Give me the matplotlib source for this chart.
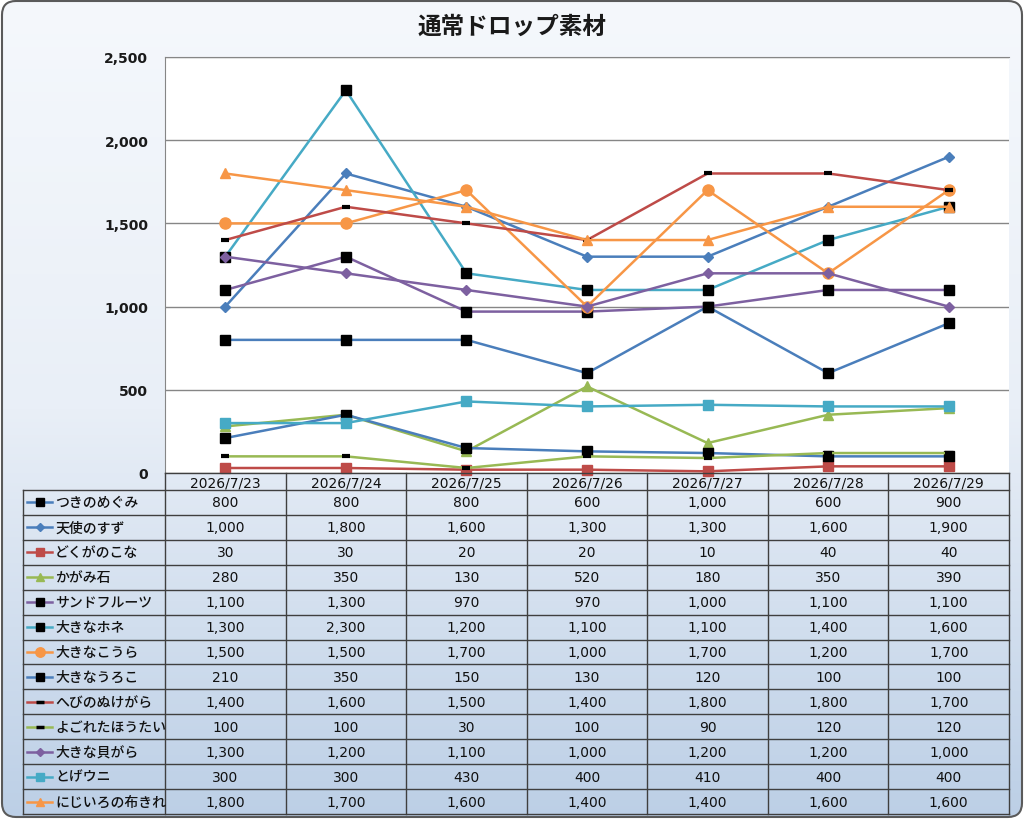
import numpy as np
import matplotlib
matplotlib.use('Agg')
import matplotlib.pyplot as plt
from matplotlib.patches import FancyBboxPatch
from matplotlib.colors import LinearSegmentedColormap
from matplotlib.ticker import FuncFormatter

plt.rcParams['font.family'] = ['DejaVu Sans', 'Noto Sans CJK JP']
JP = ['Noto Sans CJK JP', 'DejaVu Sans']

# Data
dates = ['2026/7/23', '2026/7/24', '2026/7/25', '2026/7/26',
         '2026/7/27', '2026/7/28', '2026/7/29']

names = ['つきのめぐみ', '天使のすず', 'どくがのこな', 'かがみ石', 'サンドフルーツ',
         '大きなホネ', '大きなこうら', '大きなうろこ', 'へびのぬけがら',
         'よごれたほうたい', '大きな貝がら', 'とげウニ', 'にじいろの布きれ']

tsuki = [800, 800, 800, 600, 1000, 600, 900]
tenshi = [1000, 1800, 1600, 1300, 1300, 1600, 1900]
dokuga = [30, 30, 20, 20, 10, 40, 40]
kagami = [280, 350, 130, 520, 180, 350, 390]
sand = [1100, 1300, 970, 970, 1000, 1100, 1100]
hone = [1300, 2300, 1200, 1100, 1100, 1400, 1600]
koura = [1500, 1500, 1700, 1000, 1700, 1200, 1700]
uroko = [210, 350, 150, 130, 120, 100, 100]
hebi = [1400, 1600, 1500, 1400, 1800, 1800, 1700]
yogoreta = [100, 100, 30, 100, 90, 120, 120]
kaigara = [1300, 1200, 1100, 1000, 1200, 1200, 1000]
togeuni = [300, 300, 430, 400, 410, 400, 400]
niji = [1800, 1700, 1600, 1400, 1400, 1600, 1600]

series = [tsuki, tenshi, dokuga, kagami, sand, hone, koura,
          uroko, hebi, yogoreta, kaigara, togeuni, niji]

# Styles: (line colour, marker, marker colour, marker size)
BLUE, RED, GREEN = '#4a7ebb', '#be4b48', '#98b954'
PURPLE, CYAN, ORANGE = '#7d60a0', '#46aac5', '#f79646'
styles = [
    (BLUE, 's', 'black', 7),
    (BLUE, 'D', BLUE, 5),
    (RED, 's', RED, 7),
    (GREEN, '^', GREEN, 7.5),
    (PURPLE, 's', 'black', 7),
    (CYAN, 's', 'black', 7),
    (ORANGE, 'o', ORANGE, 8),
    (BLUE, 's', 'black', 7),
    (RED, '_', 'black', 6),
    (GREEN, '_', 'black', 6),
    (PURPLE, 'D', PURPLE, 5),
    (CYAN, 's', CYAN, 7),
    (ORANGE, '^', ORANGE, 7.5),
]

W, H = 1024, 820
fig = plt.figure(figsize=(W / 100, H / 100), dpi=100)

# Background with rounded border and vertical gradient
bg = fig.add_axes([0, 0, 1, 1], zorder=0)
bg.set_xlim(0, W)
bg.set_ylim(H, 0)
bg.axis('off')
frame = FancyBboxPatch((2, 2), W - 4, H - 4, boxstyle='round,pad=0,rounding_size=14',
                       facecolor='none', edgecolor='#5a5a5a', lw=1.5, zorder=3)
bg.add_patch(frame)
cmap = LinearSegmentedColormap.from_list('bgc', ['#f5f8fc', '#e9eff7', '#bccfe6'])
grad = np.linspace(0, 1, 256).reshape(-1, 1)
img = bg.imshow(grad, extent=[0, W, H, 0], aspect='auto', cmap=cmap, zorder=1)
img.set_clip_path(frame)

bg.text(512, 27, '通常ドロップ素材', ha='center', va='center', family=JP,
        fontsize=17, fontweight='bold', color='#1a1a1a')

# Plot area in pixel geometry
px_l, px_r, px_t, px_b = 165, 1009, 58, 474
ax = fig.add_axes([px_l / W, (H - px_b) / H, (px_r - px_l) / W, (px_b - px_t) / H],
                  zorder=2)
ax.set_facecolor('white')
x = np.arange(len(dates))
for vals, (lc, mk, mc, ms) in zip(series, styles):
    if mk == '_':
        ax.plot(x, vals, color=lc, lw=1.8, marker=mk, markersize=ms,
                markeredgecolor=mc, markeredgewidth=3, clip_on=False)
    else:
        ax.plot(x, vals, color=lc, lw=1.8, marker=mk, markersize=ms,
                markerfacecolor=mc, markeredgecolor=mc, clip_on=False)
ax.set_xlim(-0.5, len(dates) - 0.5)
ax.set_ylim(0, 2500)
ax.set_yticks(np.arange(0, 2501, 500))
ax.yaxis.set_major_formatter(FuncFormatter(lambda v, p: f'{int(v):,}'))
ax.set_xticks([])
ax.grid(axis='y', color='#868686', lw=1)
ax.set_axisbelow(True)
ax.tick_params(axis='y', length=0, pad=12, labelsize=10, labelcolor='#1a1a1a')
for lab in ax.get_yticklabels():
    lab.set_fontweight('bold')
for s in ['right', 'bottom']:
    ax.spines[s].set_visible(False)
for s in ['left', 'top']:
    ax.spines[s].set_color('#868686')

# Data table
tb = fig.add_axes([0, 0, 1, 1], zorder=3)
tb.set_xlim(0, W)
tb.set_ylim(H, 0)
tb.axis('off')
tb.patch.set_alpha(0)

gcol = '#3f3f3f'
col_w = (px_r - px_l) / len(dates)
head_b = 491
tbl_l, tbl_b = 23, 815
row_h = (tbl_b - head_b) / len(names)

tb.plot([px_l, px_r], [px_b, px_b], color=gcol, lw=1)
for k in range(len(names) + 1):
    yy = head_b + k * row_h
    tb.plot([tbl_l, px_r], [yy, yy], color=gcol, lw=1)
tb.plot([tbl_l, tbl_l], [head_b, tbl_b], color=gcol, lw=1)
for k in range(len(dates) + 1):
    xx = px_l + k * col_w
    tb.plot([xx, xx], [px_b, tbl_b], color=gcol, lw=1)

for j, d in enumerate(dates):
    tb.text(px_l + (j + 0.5) * col_w, (px_b + head_b) / 2 + 1, d,
            ha='center', va='center', fontsize=10, color='#111111')

for i, (nm, vals, (lc, mk, mc, ms)) in enumerate(zip(names, series, styles)):
    yc = head_b + (i + 0.5) * row_h
    tb.plot([27, 52], [yc, yc], color=lc, lw=1.8)
    if mk == '_':
        tb.plot([39.5], [yc], marker=mk, markersize=ms * 0.9,
                markeredgecolor=mc, markeredgewidth=2.5)
    else:
        tb.plot([39.5], [yc], marker=mk, markersize=ms * 0.85,
                markerfacecolor=mc, markeredgecolor=mc)
    tb.text(55, yc, nm, ha='left', va='center', family=JP, fontsize=10,
            fontweight='medium', color='#111111')
    for j, v in enumerate(vals):
        tb.text(px_l + (j + 0.5) * col_w, yc, f'{v:,}', ha='center', va='center',
                fontsize=10, color='#111111')

fig.savefig('out.png', dpi=100)
